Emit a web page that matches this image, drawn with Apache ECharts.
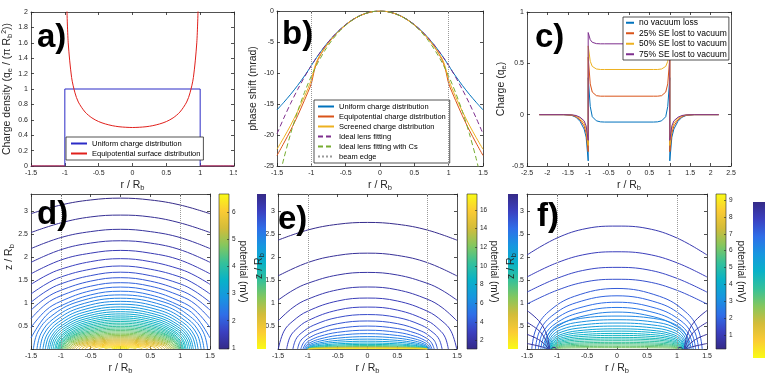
<!DOCTYPE html>
<html>
<head>
<meta charset="utf-8">
<script src="https://cdn.jsdelivr.net/npm/echarts@6/dist/echarts.min.js"></script>
<style>html,body{margin:0;padding:0;background:#fff}#main{width:765px;height:377px}</style>
</head>
<body>
<div id="main"></div>
<script>
// a) charge density
var aUniformR = [-1.5, -1, -1, 1, 1, 1.5];
var aUniformQ = [0, 0, 1, 1, 0, 0];
var aEquiR = [-1.5, -1, -0.99, -0.97, -0.95, -0.9, -0.85, -0.8, -0.7, -0.6, -0.5, -0.4, -0.3, -0.2, -0.1, 0,
              0.1, 0.2, 0.3, 0.4, 0.5, 0.6, 0.7, 0.8, 0.85, 0.9, 0.95, 0.97, 0.99, 1, 1.5];
var aEquiQ = [0, 0, null, 2.06, 1.6, 1.15, 0.95, 0.83, 0.7, 0.625, 0.577, 0.546, 0.524, 0.51, 0.503, 0.5,
              0.503, 0.51, 0.524, 0.546, 0.577, 0.625, 0.7, 0.83, 0.95, 1.15, 1.6, 2.06, null, 0, 0];

// b) phase shift (mrad)
var rB = [-1.5, -1.4, -1.3, -1.2, -1.1, -1.05, -1, -0.95, -0.9, -0.8, -0.7, -0.6, -0.5, -0.4, -0.3, -0.2, -0.1, 0,
          0.1, 0.2, 0.3, 0.4, 0.5, 0.6, 0.7, 0.8, 0.9, 0.95, 1, 1.05, 1.1, 1.2, 1.3, 1.4, 1.5];
var bUniform = [-15.94, -14.72, -13.42, -12.01, -10.48, -9.66, -8.8, -7.94, -7.13, -5.63, -4.31, -3.17, -2.2, -1.41, -0.79, -0.35, -0.09, 0,
                -0.09, -0.35, -0.79, -1.41, -2.2, -3.17, -4.31, -5.63, -7.13, -7.94, -8.8, -9.66, -10.48, -12.01, -13.42, -14.72, -15.94];
var bEquip = [-23.3, -21.3, -19.2, -16.9, -14.4, -13.1, -11.7, -9.3, -7.8, -5.9, -4.45, -3.25, -2.25, -1.43, -0.8, -0.36, -0.09, 0,
              -0.09, -0.36, -0.8, -1.43, -2.25, -3.25, -4.45, -5.9, -7.8, -9.3, -11.7, -13.1, -14.4, -16.9, -19.2, -21.3, -23.3];
var bScreen = [-22.3, -20.4, -18.4, -16.2, -13.8, -12.5, -11.1, -9.0, -7.6, -5.85, -4.42, -3.24, -2.24, -1.43, -0.8, -0.36, -0.09, 0,
               -0.09, -0.36, -0.8, -1.43, -2.24, -3.24, -4.42, -5.85, -7.6, -9.0, -11.1, -12.5, -13.8, -16.2, -18.4, -20.4, -22.3];
var bLens = [-19.8, -17.25, -14.87, -12.67, -10.65, -9.7, -8.8, -7.94, -7.13, -5.63, -4.31, -3.17, -2.2, -1.41, -0.79, -0.35, -0.09, 0,
             -0.09, -0.35, -0.79, -1.41, -2.2, -3.17, -4.31, -5.63, -7.13, -7.94, -8.8, -9.7, -10.65, -12.67, -14.87, -17.25, -19.8];
var bLensCs = [-28.41, -23.78, -19.73, -16.2, -13.14, -11.77, -10.5, -9.33, -8.24, -6.33, -4.72, -3.39, -2.31, -1.45, -0.81, -0.36, -0.09, 0,
               -0.09, -0.36, -0.81, -1.45, -2.31, -3.39, -4.72, -6.33, -8.24, -9.33, -10.5, -11.77, -13.14, -16.2, -19.73, -23.78, -28.41];
var beamEdge = [-1, 1];

// c) charge
var rC = [-2.2, -1.6, -1.4, -1.3, -1.2, -1.1, -1.05, -1, -1, -0.95, -0.9, -0.8, -0.7, -0.6, 0,
          0.6, 0.7, 0.8, 0.9, 0.95, 1, 1, 1.05, 1.1, 1.2, 1.3, 1.4, 1.6, 2.2];
var cNoLoss = [0, 0, -0.008, -0.025, -0.065, -0.14, -0.22, -0.45, 0.36, 0.08, -0.02, -0.06, -0.07, -0.072, -0.072,
               -0.072, -0.07, -0.06, -0.02, 0.08, 0.36, -0.45, -0.22, -0.14, -0.065, -0.025, -0.008, 0, 0];
var c25 = [0, 0, -0.005, -0.02, -0.05, -0.11, -0.18, -0.36, 0.56, 0.3, 0.22, 0.185, 0.18, 0.18, 0.18,
           0.18, 0.18, 0.185, 0.22, 0.3, 0.56, -0.36, -0.18, -0.11, -0.05, -0.02, -0.005, 0, 0];
var c50 = [0, 0, -0.003, -0.012, -0.035, -0.085, -0.14, -0.3, 0.67, 0.52, 0.47, 0.445, 0.44, 0.44, 0.44,
           0.44, 0.44, 0.445, 0.47, 0.52, 0.67, -0.3, -0.14, -0.085, -0.035, -0.012, -0.003, 0, 0];
var c75 = [0, 0, -0.002, -0.008, -0.025, -0.06, -0.11, -0.25, 0.8, 0.73, 0.705, 0.692, 0.69, 0.69, 0.69,
           0.69, 0.69, 0.692, 0.705, 0.73, 0.8, -0.25, -0.11, -0.06, -0.025, -0.008, -0.002, 0, 0];

// d) uniform disk: contour half-profiles [r, z] for r >= 0 (mirrored), and their potentials (mV)
var dLevels = [0.98, 1.10, 1.22, 1.34, 1.46, 1.58, 1.70, 1.82, 1.94, 2.06, 2.18, 2.30, 2.42, 2.54, 2.66, 2.78,
               2.90, 3.02, 3.14, 3.26, 3.38, 3.50, 3.62, 3.74, 3.86, 3.98, 4.10, 4.22, 4.34, 4.46, 4.58, 4.70,
               4.82, 4.94, 5.06, 5.18, 5.30, 5.42, 5.54, 5.66, 5.78, 5.90, 6.02, 6.14, 6.26, 6.38, 6.50];
var dContours = [
  [[0,3.29],[0.5,3.25],[1,3.14],[1.5,2.95]],
  [[0,2.92],[0.5,2.88],[1,2.75],[1.5,2.54]],
  [[0,2.61],[0.5,2.56],[1,2.43],[1.5,2.19]],
  [[0,2.36],[0.5,2.31],[1,2.165],[1.5,1.89]],
  [[0,2.15],[0.5,2.09],[1,1.94],[1.5,1.64]],
  [[0,1.97],[0.5,1.905],[1,1.74],[1.25,1.6],[1.5,1.41]],
  [[0,1.81],[0.5,1.74],[1,1.57],[1.25,1.414],[1.5,1.2]],
  [[0,1.675],[0.5,1.6],[1,1.42],[1.25,1.257],[1.5,1.02]],
  [[0,1.555],[0.5,1.48],[1,1.28],[1.25,1.113],[1.5,0.85]],
  [[0,1.446],[0.5,1.37],[1,1.16],[1.25,0.98],[1.5,0.66]],
  [[0,1.35],[0.5,1.27],[1,1.04],[1.25,0.843],[1.5,0.47]],
  [[0,1.26],[0.5,1.18],[1,0.94],[1.25,0.727],[1.5,0.24]],
  [[0,1.18],[0.73,1.022],[1.168,0.708],[1.387,0.368],[1.46,0]],
  [[0,1.107],[0.7,0.959],[1.12,0.664],[1.33,0.345],[1.4,0]],
  [[0,1.039],[0.675,0.9],[1.08,0.623],[1.283,0.324],[1.35,0]],
  [[0,0.977],[0.65,0.846],[1.04,0.586],[1.235,0.305],[1.3,0]],
  [[0,0.918],[0.63,0.795],[1.008,0.551],[1.197,0.286],[1.26,0]],
  [[0,0.864],[0.61,0.748],[0.976,0.518],[1.159,0.27],[1.22,0]],
  [[0,0.813],[0.595,0.704],[0.952,0.488],[1.131,0.254],[1.19,0]],
  [[0,0.765],[0.58,0.662],[0.928,0.459],[1.102,0.239],[1.16,0]],
  [[0,0.72],[0.565,0.624],[0.904,0.432],[1.074,0.225],[1.13,0]],
  [[0,0.678],[0.55,0.587],[0.88,0.407],[1.045,0.212],[1.1,0]],
  [[0,0.637],[0.54,0.552],[0.864,0.382],[1.026,0.199],[1.08,0]],
  [[0,0.599],[0.528,0.519],[0.844,0.359],[1.002,0.187],[1.055,0]],
  [[0,0.563],[0.52,0.488],[0.832,0.338],[0.988,0.176],[1.04,0]],
  [[0,0.528],[0.513,0.457],[0.82,0.317],[0.974,0.165],[1.025,0]],
  [[0,0.494],[0.505,0.428],[0.808,0.296],[0.96,0.154],[1.01,0]],
  [[0,0.462],[0.6,0.37],[0.9,0.201],[1,0]],
  [[0,0.432],[0.594,0.346],[0.891,0.188],[0.99,0]],
  [[0,0.402],[0.585,0.322],[0.878,0.175],[0.975,0]],
  [[0,0.374],[0.573,0.299],[0.86,0.163],[0.955,0]],
  [[0,0.346],[0.561,0.277],[0.842,0.151],[0.935,0]],
  [[0,0.32],[0.549,0.256],[0.824,0.14],[0.915,0]],
  [[0,0.294],[0.537,0.235],[0.806,0.128],[0.895,0]],
  [[0,0.269],[0.522,0.215],[0.783,0.117],[0.87,0]],
  [[0,0.245],[0.507,0.196],[0.761,0.107],[0.845,0]],
  [[0,0.221],[0.489,0.177],[0.734,0.096],[0.815,0]],
  [[0,0.198],[0.471,0.158],[0.707,0.086],[0.785,0]],
  [[0,0.176],[0.447,0.141],[0.671,0.077],[0.745,0]],
  [[0,0.154],[0.42,0.123],[0.63,0.067],[0.7,0]],
  [[0,0.133],[0.39,0.106],[0.585,0.058],[0.65,0]],
  [[0,0.112],[0.36,0.09],[0.54,0.049],[0.6,0]],
  [[0,0.092],[0.318,0.074],[0.477,0.04],[0.53,0]],
  [[0,0.072],[0.276,0.058],[0.414,0.031],[0.46,0]],
  [[0,0.053],[0.222,0.042],[0.333,0.023],[0.37,0]],
  [[0,0.034],[0.162,0.027],[0.243,0.015],[0.27,0]],
  [[0,0.015],[0.09,0.012],[0.135,0.007],[0.15,0]]
];

// e) equipotential disk
var eLevels = [1.3, 1.65, 2.0, 2.35, 2.7, 3.05, 3.4, 3.8, 4.2, 4.7, 5.2, 5.8, 6.4, 7.1, 8.0, 9.0,
               10.2, 11.5, 12.8, 14.2, 15.6, 17.0];
var eContours = [
  [[0,2.76],[0.5,2.72],[1,2.595],[1.5,2.373]],
  [[0,2.09],[0.5,2.041],[1,1.885],[1.5,1.593]],
  [[0,1.67],[0.5,1.614],[1,1.433],[1.25,1.28],[1.5,1.064]],
  [[0,1.352],[0.5,1.291],[1,1.087],[1.25,0.904],[1.5,0.611]],
  [[0,1.111],[0.5,1.047],[1,0.826],[1.25,0.609],[1.4,0.389],[1.495,0]],
  [[0,0.914],[0.5,0.849],[1,0.617],[1.2,0.424],[1.3,0.257],[1.355,0]],
  [[0,0.751],[0.5,0.688],[0.9,0.521],[1.1,0.357],[1.2,0.211],[1.25,0]],
  [[0,0.611],[0.5,0.553],[0.9,0.391],[1.05,0.271],[1.13,0.162],[1.172,0]],
  [[0,0.5],[0.5,0.447],[0.8,0.349],[0.95,0.264],[1.06,0.159],[1.118,0]],
  [[0,0.41],[0.5,0.364],[0.8,0.276],[0.95,0.196],[1.03,0.124],[1.081,0]],
  [[0,0.335],[0.5,0.295],[0.8,0.218],[0.95,0.146],[1.02,0.085],[1.055,0]],
  [[0,0.27],[0.5,0.237],[0.8,0.172],[0.95,0.108],[1.01,0.06],[1.036,0]],
  [[0,0.215],[0.5,0.188],[0.8,0.134],[0.95,0.08],[1,0.045],[1.023,0]],
  [[0,0.17],[0.5,0.148],[0.8,0.105],[0.95,0.06],[0.995,0.033],[1.014,0]],
  [[0,0.13],[0.5,0.113],[0.8,0.079],[0.95,0.044],[0.99,0.025],[1.008,0]],
  [[0,0.1],[0.5,0.087],[0.8,0.061],[0.95,0.033],[0.99,0.017],[1.005,0]],
  [[0,0.075],[0.5,0.065],[0.8,0.045],[0.95,0.024],[1.003,0]],
  [[0,0.055],[0.5,0.048],[0.8,0.033],[0.95,0.018],[1.002,0]],
  [[0,0.04],[0.5,0.035],[0.8,0.024],[0.95,0.013],[1.001,0]],
  [[0,0.028],[0.5,0.024],[0.8,0.017],[0.95,0.009],[1,0]],
  [[0,0.018],[0.5,0.016],[0.8,0.011],[1,0]],
  [[0,0.009],[0.5,0.008],[0.8,0.005],[1,0]]
];

// f) screened disk
var fLevels = [0.9, 1.12, 1.34, 1.56, 1.78, 2.0, 2.22, 2.44, 2.66, 2.88, 3.1, 3.32, 3.54, 3.76, 3.98, 4.2,
               4.42, 4.64, 4.86, 5.08, 5.3, 5.52, 5.74, 5.96, 6.18];
var fContours = [
  [[0,2.68],[0.5,2.63],[1,2.42],[1.5,2.05]],
  [[0,2.12],[0.5,2.07],[1,1.88],[1.5,1.57]],
  [[0,1.78],[0.5,1.73],[1,1.54],[1.5,1.24]],
  [[0,1.52],[0.5,1.47],[1,1.28],[1.5,0.98]],
  [[0,1.32],[0.71,1.148],[1.136,0.818],[1.349,0.436],[1.42,0]],
  [[0,1.16],[0.68,1.009],[1.088,0.719],[1.292,0.383],[1.36,0]],
  [[0,1.02],[0.655,0.887],[1.048,0.632],[1.245,0.337],[1.31,0]],
  [[0,0.906],[0.635,0.788],[1.016,0.562],[1.207,0.299],[1.27,0]],
  [[0,0.805],[0.618,0.7],[0.988,0.499],[1.173,0.266],[1.235,0]],
  [[0,0.718],[0.603,0.668],[0.964,0.539],[1.145,0.323],[1.205,0]],
  [[0,0.638],[0.59,0.593],[0.944,0.479],[1.121,0.287],[1.18,0]],
  [[0,0.566],[0.58,0.526],[0.928,0.425],[1.102,0.255],[1.16,0]],
  [[0,0.5],[0.573,0.465],[0.916,0.375],[1.088,0.225],[1.145,0]],
  [[0,0.44],[0.565,0.409],[0.904,0.33],[1.074,0.198],[1.13,0]],
  [[0,0.39],[0.56,0.363],[0.896,0.293],[1.064,0.176],[1.12,0]],
  [[0,0.34],[0.555,0.316],[0.888,0.255],[1.055,0.153],[1.11,0]],
  [[0,0.297],[0.55,0.276],[0.88,0.223],[1.045,0.134],[1.1,0]],
  [[0,0.254],[0.548,0.236],[0.876,0.191],[1.04,0.114],[1.095,0]],
  [[0,0.218],[0.545,0.203],[0.872,0.164],[1.036,0.098],[1.09,0]],
  [[0,0.181],[0.543,0.168],[0.868,0.136],[1.031,0.081],[1.085,0]],
  [[0,0.145],[0.54,0.135],[0.864,0.109],[1.026,0.065],[1.08,0]],
  [[0,0.116],[0.538,0.108],[0.86,0.087],[1.021,0.052],[1.075,0]],
  [[0,0.087],[0.535,0.081],[0.856,0.065],[1.017,0.039],[1.07,0]],
  [[0,0.058],[0.533,0.054],[0.852,0.044],[1.012,0.026],[1.065,0]],
  [[0,0.029],[0.53,0.027],[0.848,0.022],[1.007,0.013],[1.06,0]]
];
// contours around the negative ring near r = +-1.05 (right side, mirrored)
var fRingLevels = [0.7, 0.6, 0.5, 0.4, 0.2];
var fRingArcs = [
  [[1.12,0],[1.17,0.3],[1.28,0.58],[1.5,0.84]],
  [[1.13,0],[1.19,0.2],[1.3,0.4],[1.5,0.58]],
  [[1.14,0],[1.22,0.12],[1.34,0.23],[1.5,0.32]],
  [[1.15,0],[1.26,0.05],[1.5,0.12]],
  [[1.01,0],[1.03,0.03],[1.07,0.035],[1.09,0]]
];

// colorbars
var dTicks = [1, 2, 3, 4, 5, 6];
var eTicks = [2, 4, 6, 8, 10, 12, 14, 16];
var fTicks = [1, 2, 3, 4, 5, 6, 7, 8, 9];
var dRange = [0.96, 6.66], eRange = [1.11, 17.7], fRange = [0.17, 9.36];

var FF = '"Liberation Sans", Arial, Helvetica, sans-serif';
var AX = '#262626';
var PARULA = ['#352a87', '#3b40c0', '#2f6ee8', '#1796e0', '#08b2c8', '#35c19a', '#84c75e', '#d3bc3a', '#fbcb34', '#f9fb15'];
var RICH = {
  s: {fontSize: 7.5, lineHeight: 7, verticalAlign: 'bottom', fontFamily: FF, color: AX},
  p: {fontSize: 7, lineHeight: 6, verticalAlign: 'top', fontFamily: FF, color: AX}
};

function hex2rgb(h) { return [parseInt(h.slice(1, 3), 16), parseInt(h.slice(3, 5), 16), parseInt(h.slice(5, 7), 16)]; }
function parula(t) {
  t = Math.max(0, Math.min(1, t));
  var n = PARULA.length - 1, s = t * n, i = Math.min(Math.floor(s), n - 1), f = s - i;
  var a = hex2rgb(PARULA[i]), b = hex2rgb(PARULA[i + 1]);
  return 'rgb(' + a.map(function (v, j) { return Math.round(v + (b[j] - v) * f); }).join(',') + ')';
}
function parulaGrad(reverse) {
  var stops = PARULA.map(function (c, i) { return {offset: i / (PARULA.length - 1), color: c}; });
  return {type: 'linear', x: 0, y: reverse ? 0 : 1, x2: 0, y2: reverse ? 1 : 0, colorStops: stops};
}
function zip(xs, ys) {
  return xs.map(function (x, i) { return [x, ys[i] === null ? '-' : ys[i]]; });
}
function mirror(half) {
  var left = [];
  for (var i = half.length - 1; i >= 0; i--) {
    if (half[i][0] === 0) continue;
    left.push([-half[i][0], half[i][1]]);
  }
  return left.concat(half);
}
function flip(arc) {
  return arc.map(function (p) { return [-p[0], p[1]]; }).reverse();
}
function nameStyle(size) {
  return {fontSize: size || 10.5, lineHeight: 14, fontFamily: FF, color: AX, rich: RICH};
}

// each panel gets a bottom/left axis with labels and a top/right twin for the box ticks
var xAxes = [], yAxes = [];
function panelAxes(gi, x, y) {
  var line = {show: true, onZero: false, lineStyle: {color: AX, width: 0.8}};
  var tick = {inside: true, length: 3, lineStyle: {color: AX, width: 0.8}};
  var xl = {fontSize: 7, color: AX, fontFamily: FF, margin: 4};
  var yl = {fontSize: 7, color: AX, fontFamily: FF, margin: 3};
  if (y.fmt) { yl.formatter = y.fmt; yl.showMaxLabel = false; }
  xAxes.push({gridIndex: gi, type: 'value', min: x.min, max: x.max, interval: x.step, position: 'bottom',
    axisLine: line, axisTick: tick, axisLabel: xl, splitLine: {show: false},
    name: x.name || '', nameLocation: 'middle', nameGap: x.gap, nameTextStyle: nameStyle()});
  xAxes.push({gridIndex: gi, type: 'value', min: x.min, max: x.max, interval: x.step, position: 'top',
    axisLine: line, axisTick: tick, axisLabel: {show: false}, splitLine: {show: false}});
  yAxes.push({gridIndex: gi, type: 'value', min: y.min, max: y.max, interval: y.step, position: 'left',
    axisLine: line, axisTick: tick, axisLabel: yl, splitLine: {show: false},
    name: y.name || '', nameLocation: 'middle', nameRotate: 90, nameGap: y.gap || 12, nameTextStyle: nameStyle()});
  yAxes.push({gridIndex: gi, type: 'value', min: y.min, max: y.max, interval: y.step, position: 'right',
    axisLine: line, axisTick: tick, axisLabel: {show: false}, splitLine: {show: false}});
}
function zfmt(v) { return (v <= 0 || v > 3.3) ? '' : String(v); }
var RNAME = 'r / R{s|b}';
panelAxes(0, {min: -1.5, max: 1.5, step: 0.5, name: RNAME, gap: 12},
             {min: 0, max: 2, step: 0.2, name: 'Charge density (q{s|e} / (π R{s|b}{p|2}))', gap: 16});
panelAxes(1, {min: -1.5, max: 1.5, step: 0.5, name: RNAME, gap: 12},
             {min: -25, max: 0, step: 5, name: 'phase shift (mrad)', gap: 13});
panelAxes(2, {min: -2.5, max: 2.5, step: 0.5, name: RNAME, gap: 12},
             {min: -0.5, max: 1, step: 0.5, name: 'Charge (q{s|e})', gap: 19});
panelAxes(3, {min: -1.5, max: 1.5, step: 0.5, name: RNAME, gap: 11}, {min: 0, max: 3.38, step: 0.5, fmt: zfmt});
panelAxes(4, {min: -1.5, max: 1.5, step: 0.5, name: RNAME, gap: 11}, {min: 0, max: 3.38, step: 0.5, fmt: zfmt});
panelAxes(5, {min: -1.5, max: 1.5, step: 0.5, name: RNAME, gap: 11}, {min: 0, max: 3.38, step: 0.5, fmt: zfmt});

function colorbarAxes(gi, range, ticks, gap) {
  xAxes.push({gridIndex: gi, type: 'value', show: false, min: 0, max: 1});
  yAxes.push({gridIndex: gi, type: 'value', min: range[0], max: range[1], position: 'right',
    axisLine: {show: false, onZero: false},
    axisTick: {inside: true, length: 2, customValues: ticks, lineStyle: {color: AX, width: 0.6}},
    axisLabel: {fontSize: 6.5, color: AX, fontFamily: FF, margin: 3, customValues: ticks},
    splitLine: {show: false},
    name: 'potential (mV)', nameLocation: 'middle', nameRotate: -90, nameGap: gap, nameMoveOverlap: false,
    nameTextStyle: nameStyle(10)});
}
colorbarAxes(6, dRange, dTicks, 7);
colorbarAxes(7, eRange, eTicks, 10);
colorbarAxes(8, fRange, fTicks, 8);

var grids = [
  {left: 31, top: 12, width: 203, height: 154},
  {left: 277, top: 11, width: 206, height: 155},
  {left: 527, top: 12, width: 204, height: 154},
  {left: 31, top: 194, width: 179, height: 155},
  {left: 278, top: 194, width: 179, height: 155},
  {left: 527, top: 194, width: 180, height: 155},
  {left: 219, top: 194, width: 10, height: 155, show: true, backgroundColor: parulaGrad(false), borderColor: AX, borderWidth: 0.6},
  {left: 467, top: 194, width: 10, height: 155, show: true, backgroundColor: parulaGrad(false), borderColor: AX, borderWidth: 0.6},
  {left: 716, top: 194, width: 10, height: 155, show: true, backgroundColor: parulaGrad(false), borderColor: AX, borderWidth: 0.6}
].map(function (g) { g.containLabel = false; g.outerBoundsMode = 'none'; return g; });

function lineSeries(p, name, xs, ys, color, dash, smooth) {
  return {name: name, type: 'line', xAxisIndex: 2 * p, yAxisIndex: 2 * p, data: zip(xs, ys),
    symbol: 'none', smooth: smooth || false, connectNulls: false,
    itemStyle: {color: color}, lineStyle: {color: color, width: 1, type: dash || 'solid'}};
}
function edgeSeries(p, name) {
  var ls = {color: '#9a9a9a', width: 1, type: 'dotted'};
  return {name: name, type: 'line', xAxisIndex: 2 * p, yAxisIndex: 2 * p, data: [], symbol: 'none',
    itemStyle: {color: '#9a9a9a'}, lineStyle: ls,
    markLine: {silent: true, symbol: 'none', label: {show: false}, lineStyle: ls,
      data: beamEdge.map(function (v) { return {xAxis: v}; })}};
}
function contourSeries(p, list, levels, range) {
  return list.map(function (pts, k) {
    return {type: 'line', xAxisIndex: 2 * p, yAxisIndex: 2 * p, data: pts, symbol: 'none',
      smooth: 0.4, silent: true,
      lineStyle: {width: 1, color: parula((levels[k] - range[0]) / (range[1] - range[0]))}};
  });
}

var series = [];
// a
series.push(lineSeries(0, 'Uniform charge distribution', aUniformR, aUniformQ, '#2b2bc6'));
series.push(lineSeries(0, 'Equipotential surface distribution', aEquiR, aEquiQ, '#e0201c', null, 0.3));
// b
series.push(lineSeries(1, 'Uniform charge distribution ', rB, bUniform, '#0072BD', null, 0.3));
series.push(lineSeries(1, 'Equipotential charge distribution', rB, bEquip, '#D95319', null, 0.3));
series.push(lineSeries(1, 'Screened charge distribution', rB, bScreen, '#EDB120', null, 0.3));
series.push(lineSeries(1, 'Ideal lens fitting', rB, bLens, '#7E2F8E', [5, 3], 0.3));
series.push(lineSeries(1, 'Ideal lens fitting with Cs', rB, bLensCs, '#77AC30', [5, 3], 0.3));
series.push(edgeSeries(1, 'beam edge'));
// c
series.push(lineSeries(2, 'no vacuum loss', rC, cNoLoss, '#0072BD'));
series.push(lineSeries(2, '25% SE lost to vacuum', rC, c25, '#D95319'));
series.push(lineSeries(2, '50% SE lost to vacuum', rC, c50, '#EDB120'));
series.push(lineSeries(2, '75% SE lost to vacuum', rC, c75, '#7E2F8E'));
// d, e, f contours
series = series.concat(contourSeries(3, dContours.map(mirror), dLevels, dRange));
series = series.concat(contourSeries(4, eContours.map(mirror), eLevels, eRange));
series = series.concat(contourSeries(5, fContours.map(mirror), fLevels, fRange));
series = series.concat(contourSeries(5, fRingArcs, fRingLevels, fRange));
series = series.concat(contourSeries(5, fRingArcs.map(flip), fRingLevels, fRange));
series.push(edgeSeries(3, 'edge d'));
series.push(edgeSeries(4, 'edge e'));
series.push(edgeSeries(5, 'edge f'));

function legendBox(left, top, names, font, lh, iw, pad) {
  return {left: left, top: top, orient: 'vertical', data: names, selectedMode: false,
    backgroundColor: '#fff', borderColor: AX, borderWidth: 0.8, borderRadius: 0, padding: pad,
    itemWidth: iw, itemHeight: 8, itemGap: 1,
    itemStyle: {opacity: 0},
    textStyle: {fontSize: font, lineHeight: lh, color: '#000', fontFamily: FF}};
}
var legends = [
  legendBox(66, 137, ['Uniform charge distribution', 'Equipotential surface distribution'], 7.5, 9, 16, [2, 3, 2, 4]),
  legendBox(314, 100, ['Uniform charge distribution ', 'Equipotential charge distribution', 'Screened charge distribution',
    'Ideal lens fitting', 'Ideal lens fitting with Cs', 'beam edge'], 7.5, 9, 16, [2, 4, 2, 3]),
  legendBox(623, 17, ['no vacuum loss', '25% SE lost to vacuum', '50% SE lost to vacuum', '75% SE lost to vacuum'],
    8.5, 9.5, 8, [1, 2, 1, 2])
];

var graphics = [];
[['a)', 37, 38], ['b)', 282, 35], ['c)', 535, 38], ['d)', 37, 215], ['e)', 278, 220], ['f)', 537, 217]].forEach(function (l) {
  graphics.push({type: 'text', x: l[1], y: l[2], z: 20, silent: true,
    style: {text: l[0], fontSize: 33, fontWeight: 'bold', fontFamily: FF, fill: '#000',
      verticalAlign: 'middle', textVerticalAlign: 'middle'}});
});
// fragments of neighbouring colorbars that overlap the panels
[[257, 194, 9, 155], [508, 194, 10, 155], [753, 202, 12, 156]].forEach(function (r) {
  graphics.push({type: 'rect', z: 15, silent: true, shape: {x: r[0], y: r[1], width: r[2], height: r[3]},
    style: {fill: parulaGrad(true)}});
});
graphics.push({type: 'rect', z: 15, silent: true, shape: {x: 237, y: 168, width: 8, height: 10}, style: {fill: '#fff'}});
[[9, 257], [259, 266], [511, 266]].forEach(function (p) {
  graphics.push({type: 'text', x: p[0], y: p[1], rotation: Math.PI / 2, z: 20, silent: true,
    style: {text: 'z / R{s|b}', rich: RICH, fontSize: 10.5, lineHeight: 14, fontFamily: FF, fill: AX,
      align: 'center', textAlign: 'center', verticalAlign: 'middle', textVerticalAlign: 'middle'}});
});

var chart = echarts.init(document.getElementById('main'));
chart.setOption({
  backgroundColor: '#fff',
  animation: false,
  grid: grids,
  xAxis: xAxes,
  yAxis: yAxes,
  legend: legends,
  series: series,
  graphic: {elements: graphics}
});
</script>
</body>
</html>
